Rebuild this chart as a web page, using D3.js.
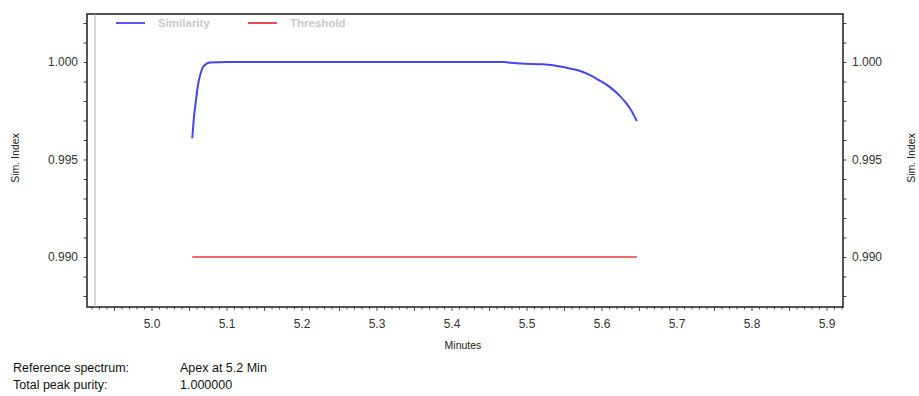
<!DOCTYPE html>
<html>
<head>
<meta charset="utf-8">
<script src="https://cdn.jsdelivr.net/npm/d3@7"></script>
<style>
  body { margin: 0; background: #fff; }
  svg { display: block; font-family: "Liberation Sans", Arial, sans-serif; }
</style>
</head>
<body>
<svg id="chart" width="919" height="396"></svg>
<script>
// similarity curve
const simTime = [5.0537, 5.056, 5.0587, 5.0617, 5.0649, 5.0684, 5.0773, 5.10, 5.20, 5.30, 5.40, 5.470,
  5.478, 5.491, 5.521, 5.544, 5.557, 5.571, 5.584, 5.597, 5.611, 5.624, 5.633, 5.638, 5.6465];
const simValue = [0.99609, 0.99719, 0.99805, 0.99891, 0.99942, 0.99976, 0.99998, 1.0, 1.0, 1.0, 1.0, 1.0,
  0.99996, 0.99992, 0.99988, 0.99977, 0.99967, 0.99954, 0.99933, 0.99905, 0.99870, 0.99825, 0.99785, 0.99758, 0.99697];
const thrTime = [5.0537, 5.6465];
const thrValue = [0.990, 0.990];

const xLabels = [5.0, 5.1, 5.2, 5.3, 5.4, 5.5, 5.6, 5.7, 5.8, 5.9];
const yLabels = [0.990, 0.995, 1.000];
const legendNames = ["Similarity", "Threshold"];
const infoRows = [["Reference spectrum:", "Apex at 5.2 Min"], ["Total peak purity:", "1.000000"]];

const colors = {sim: "#4646ee", thr: "#e83a3a", frame: "#2a2a2a", text: "#333"};
const box = {left: 87, right: 843, top: 14, bottom: 307};

const svg = d3.select("#chart");

const x = d3.scaleLinear().domain([5.0, 5.9]).range([152, 827]);
const y = d3.scaleLinear().domain([0.990, 1.000]).range([257, 62]);

const xMin = x.invert(box.left), xMax = x.invert(box.right);
const yMin = y.invert(box.bottom), yMax = y.invert(box.top);

// tick lists
const yTicks = d3.range(0, 16).map(i => +(0.987 + i * 0.001).toFixed(3)).filter(v => v >= yMin && v <= yMax);
const xTicks = d3.range(0, 110).map(i => +(4.90 + i * 0.01).toFixed(2)).filter(v => v > xMin && v < xMax);

// left axis ticks
svg.append("g")
  .attr("transform", `translate(${box.left},0)`)
  .call(d3.axisLeft(y).tickValues(yTicks).tickSize(3.5).tickFormat(""))
  .call(g => g.select(".domain").remove())
  .call(g => g.selectAll("line").attr("stroke", "#444"));

// right axis ticks
svg.append("g")
  .attr("transform", `translate(${box.right},0)`)
  .call(d3.axisRight(y).tickValues(yTicks).tickSize(3.5).tickFormat(""))
  .call(g => g.select(".domain").remove())
  .call(g => g.selectAll("line").attr("stroke", "#444"));

// bottom ticks
svg.append("g")
  .attr("transform", `translate(0,${box.bottom})`)
  .selectAll("line")
  .data(xTicks)
  .join("line")
  .attr("x1", d => x(d)).attr("x2", d => x(d))
  .attr("y1", 0)
  .attr("y2", d => Math.round(d * 100) % 5 === 0 ? 4 : 2.5)
  .attr("stroke", "#555");

// frame
svg.append("rect")
  .attr("x", box.left).attr("y", box.top)
  .attr("width", box.right - box.left).attr("height", box.bottom - box.top)
  .attr("fill", "none").attr("stroke", colors.frame).attr("stroke-width", 1.6);
svg.append("line")
  .attr("x1", 95).attr("x2", 95).attr("y1", box.top).attr("y2", box.bottom)
  .attr("stroke", "#aaa").attr("stroke-width", 1);

// y labels
svg.append("g").selectAll("text")
  .data(yLabels).join("text")
  .attr("x", 78).attr("y", d => y(d)).attr("dy", "0.35em")
  .attr("text-anchor", "end").attr("font-size", 12).attr("fill", colors.text)
  .text(d => d.toFixed(3));
svg.append("g").selectAll("text")
  .data(yLabels).join("text")
  .attr("x", 852).attr("y", d => y(d)).attr("dy", "0.35em")
  .attr("text-anchor", "start").attr("font-size", 12).attr("fill", colors.text)
  .text(d => d.toFixed(3));

// x labels
svg.append("g").selectAll("text")
  .data(xLabels).join("text")
  .attr("x", d => x(d)).attr("y", 328)
  .attr("text-anchor", "middle").attr("font-size", 12).attr("fill", colors.text)
  .text(d => d.toFixed(1));

svg.append("text")
  .attr("x", 463).attr("y", 349).attr("text-anchor", "middle")
  .attr("font-size", 10.5).attr("fill", "#222").text("Minutes");

// axis titles
[[15, -90], [911, -90]].forEach(([tx, rot]) => {
  svg.append("text")
    .attr("transform", `translate(${tx},158) rotate(${rot})`)
    .attr("text-anchor", "middle").attr("dy", "0.35em")
    .attr("font-size", 10.5).attr("fill", "#222").text("Sim. Index");
});

// data lines
const line = d3.line().x(d => x(d[0])).y(d => y(d[1]));
svg.append("path")
  .datum(d3.zip(thrTime, thrValue))
  .attr("d", line).attr("fill", "none")
  .attr("stroke", colors.thr).attr("stroke-width", 1.6);
svg.append("path")
  .datum(d3.zip(simTime, simValue))
  .attr("d", line.curve(d3.curveMonotoneX)).attr("fill", "none")
  .attr("stroke", colors.sim).attr("stroke-width", 2);

// legend
const legend = svg.append("g");
[[116, colors.sim], [248, colors.thr]].forEach(([lx, c], i) => {
  legend.append("line")
    .attr("x1", lx).attr("x2", lx + 29).attr("y1", 23).attr("y2", 23)
    .attr("stroke", c).attr("stroke-width", 1.8);
  legend.append("text")
    .attr("x", lx + 42).attr("y", 23).attr("dy", "0.35em")
    .attr("font-size", 11.5).attr("font-weight", "bold").attr("fill", "#c9c9c9")
    .text(legendNames[i]);
});

// info text under the chart
infoRows.forEach((row, i) => {
  const ty = 372 + i * 17;
  svg.append("text").attr("x", 13).attr("y", ty)
    .attr("font-size", 12.5).attr("fill", "#111").text(row[0]);
  svg.append("text").attr("x", 180).attr("y", ty)
    .attr("font-size", 12.5).attr("fill", "#111").text(row[1]);
});
</script>
</body>
</html>
